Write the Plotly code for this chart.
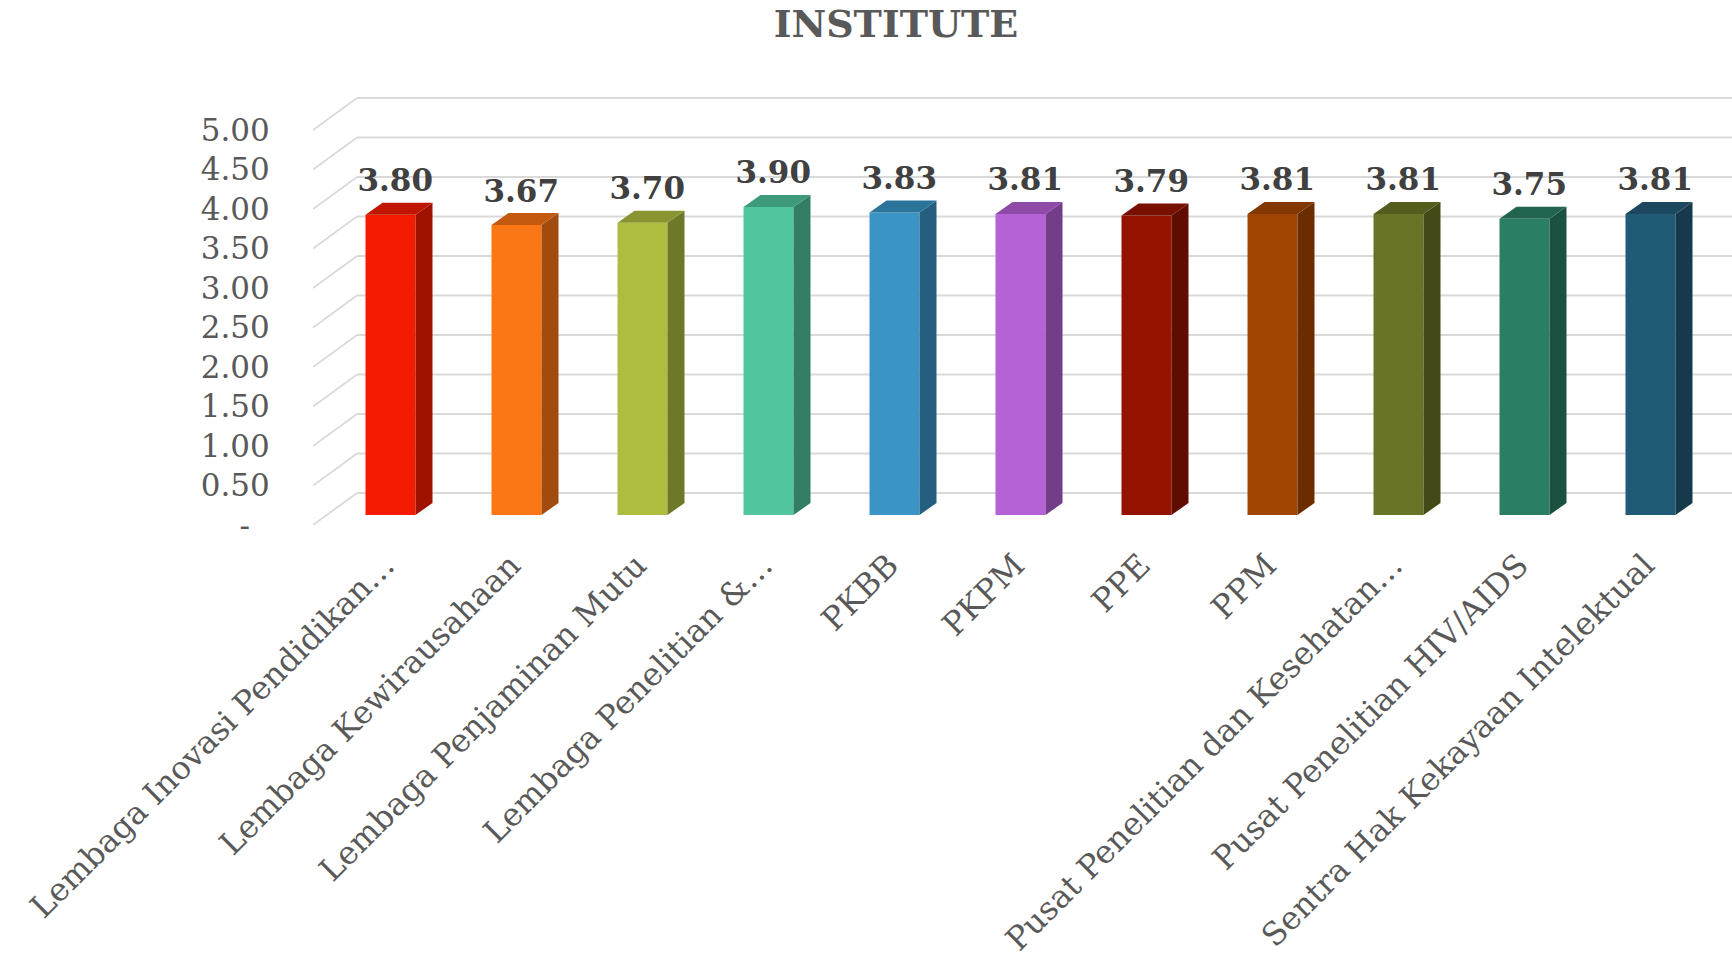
import plotly.graph_objects as go

categories = [
    "Lembaga Inovasi Pendidikan…",
    "Lembaga Kewirausahaan",
    "Lembaga Penjaminan Mutu",
    "Lembaga Penelitian &…",
    "PKBB",
    "PKPM",
    "PPE",
    "PPM",
    "Pusat Penelitian dan Kesehatan…",
    "Pusat Penelitian HIV/AIDS",
    "Sentra Hak Kekayaan Intelektual",
]
values = [3.80, 3.67, 3.70, 3.90, 3.83, 3.81, 3.79, 3.81, 3.81, 3.75, 3.81]
front_colors = ["#F51B02", "#FB7715", "#AEBD3F", "#51C59E", "#3A94C5", "#B462D5",
                "#951200", "#A04502", "#6A7426", "#2A7E63", "#215A76"]
side_colors = ["#A01200", "#A24B0E", "#6F7828", "#327E64", "#255F80", "#733D8A",
               "#600C00", "#6B2D00", "#434A18", "#1B5140", "#16394C"]
top_colors = ["#C01500", "#C45A10", "#8A9430", "#3D9A7A", "#2C7399", "#8F4AA8",
              "#781000", "#833800", "#545C1E", "#22644F", "#1B485F"]
y_tickvals = [0, 0.5, 1, 1.5, 2, 2.5, 3, 3.5, 4, 4.5, 5]
y_ticktext = ["-\u00a0\u00a0", "0.50", "1.00", "1.50", "2.00", "2.50", "3.00",
              "3.50", "4.00", "4.50", "5.00"]

# ---- geometry (pixels) ----
W, H = 1732, 969
PX_LEFT = 313          # front-left corner of floor
PX_FLOOR = 525         # front floor edge (y of value 0 on front plane)
PX_CAT0 = 399          # pixel of first category
PX_STEP = 126          # pixels per category
PX_UNIT = 79           # pixels per 1.0 value
BAR_W = 50             # front face width px
BAR_LEFT_OFF = -33.5   # front face left relative to category px
BAR_FRONT_SHIFT = 10   # bar front plane above floor front (px)
DEPTH_DX, DEPTH_DY = 17, 12     # bar depth px
WALL_DX, WALL_DY = 44, 32       # floor depth px

x0 = -(PX_CAT0 - PX_LEFT) / PX_STEP
x1 = x0 + (W - PX_LEFT) / PX_STEP
y_top = PX_FLOOR / PX_UNIT
ydom0 = (H - PX_FLOOR) / H

wbar = BAR_W / PX_STEP
off = BAR_LEFT_OFF / PX_STEP
ddx = DEPTH_DX / PX_STEP
ddy = DEPTH_DY / PX_UNIT
shift = BAR_FRONT_SHIFT / PX_UNIT

fig = go.Figure()

idx = list(range(len(categories)))

# front faces
fig.add_trace(go.Bar(
    x=idx, y=values, width=wbar, offset=off,
    marker=dict(color=front_colors, line=dict(width=0)),
    xaxis="x", yaxis="y2", hoverinfo="skip", showlegend=False,
))

# side and top faces
for i, v in enumerate(values):
    xl = i + off
    xr = xl + wbar
    fig.add_trace(go.Scatter(
        x=[xr, xr + ddx, xr + ddx, xr, xr],
        y=[0, ddy, v + ddy, v, 0],
        fill="toself", fillcolor=side_colors[i], mode="lines",
        line=dict(width=0, color=side_colors[i]),
        xaxis="x", yaxis="y2", hoverinfo="skip", showlegend=False,
    ))
    fig.add_trace(go.Scatter(
        x=[xl, xl + ddx, xr + ddx, xr, xl],
        y=[v, v + ddy, v + ddy, v, v],
        fill="toself", fillcolor=top_colors[i], mode="lines",
        line=dict(width=0, color=top_colors[i]),
        xaxis="x", yaxis="y2", hoverinfo="skip", showlegend=False,
    ))

# data labels
fig.add_trace(go.Scatter(
    x=[i - 0.03 for i in idx], y=[v + 0.2 for v in values],
    mode="text", text=[f"{v:.2f}" for v in values], textposition="top center",
    textfont=dict(family="DejaVu Serif", size=31, color="#404040", weight="bold"),
    xaxis="x", yaxis="y2", hoverinfo="skip", showlegend=False,
))

# 3D gridlines
shapes = []
wx = x0 + WALL_DX / PX_STEP
for t in y_tickvals:
    yb = t + WALL_DY / PX_UNIT
    shapes.append(dict(type="line", xref="x", yref="y", x0=x0, y0=t, x1=wx, y1=yb,
                       line=dict(color="#D9D9D9", width=1.8), layer="below"))
    shapes.append(dict(type="line", xref="x", yref="y", x0=wx, y0=yb, x1=x1, y1=yb,
                       line=dict(color="#D9D9D9", width=1.8), layer="below"))

fig.update_layout(
    width=W, height=H,
    margin=dict(l=0, r=0, t=0, b=0),
    paper_bgcolor="white", plot_bgcolor="rgba(0,0,0,0)",
    shapes=shapes,
    title=dict(text="<b>INSTITUTE</b>", x=896 / W, xanchor="center",
               y=1 - 24 / H, yanchor="middle", yref="paper",
               font=dict(family="DejaVu Serif", size=38, color="#595959")),
    xaxis=dict(
        domain=[PX_LEFT / W, 1], range=[x0, x1], tickmode="array",
        tickvals=idx, ticktext=categories, tickangle=-45,
        tickfont=dict(family="DejaVu Serif", size=32, color="#595959"),
        showgrid=False, zeroline=False, showline=False, ticks="", automargin=False,
        ticklabelstandoff=14, ticklabelshift=-14,
        anchor="y",
    ),
    yaxis=dict(
        domain=[ydom0, 1], range=[0, y_top], tickmode="array",
        tickvals=y_tickvals, ticktext=y_ticktext,
        tickfont=dict(family="DejaVu Serif", size=31, color="#595959"),
        showgrid=False, zeroline=False, showline=False,
        ticks="outside", ticklen=36, tickcolor="rgba(0,0,0,0)", automargin=False,
        anchor="x",
    ),
    yaxis2=dict(
        domain=[ydom0, 1], range=[-shift, y_top - shift], overlaying="y",
        visible=False, anchor="x",
    ),
)

fig.write_html("out.html")
